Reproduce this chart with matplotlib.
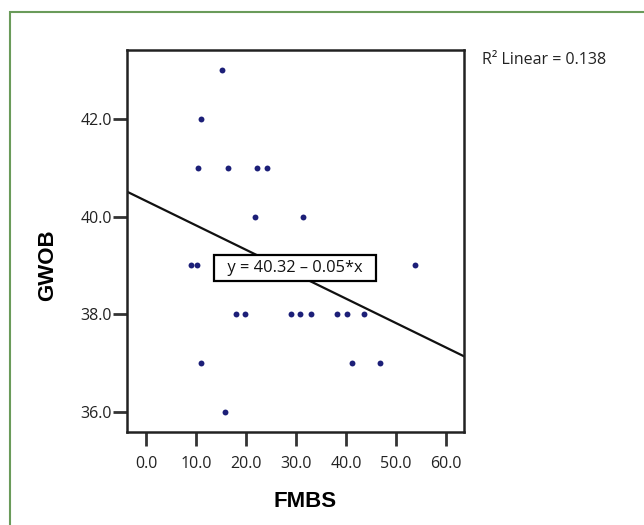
import matplotlib
matplotlib.use("Agg")
import numpy as np
import matplotlib.pyplot as plt
from matplotlib.patches import Rectangle

# FMBS vs GWOB values
fmbs = [15.3, 11.0, 10.5, 16.5, 22.3, 24.3, 21.8, 31.4, 9.1, 10.3, 53.8,
        18.1, 19.8, 29.1, 30.8, 33.1, 38.1, 40.1, 43.5, 11.0, 41.1, 46.8, 15.8]
gwob = [43, 42, 41, 41, 41, 41, 40, 40, 39, 39, 39,
        38, 38, 38, 38, 38, 38, 38, 38, 37, 37, 37, 36]
intercept = 40.32
slope = -0.05
r2 = 0.138
xticks = [0, 10, 20, 30, 40, 50, 60]
yticks = [36, 38, 40, 42]

plt.rcParams["font.family"] = ["Open Sans", "DejaVu Sans"]
fig = plt.figure(figsize=(6.44, 5.25), dpi=100)
ax = fig.add_axes([0.1972, 0.1771, 0.5233, 0.7277])

ax.scatter(fmbs, gwob, s=18, color="#1c1f78", zorder=3, linewidths=0)
xl = (-3.8, 63.6)
xs = np.array(xl)
ax.plot(xs, intercept + slope * xs, color="#111111", lw=1.6, zorder=2)
ax.set_xlim(*xl)
ax.set_ylim(35.59, 43.41)

ax.set_xticks(xticks)
ax.set_xticklabels([f"{v:.1f}" for v in xticks])
ax.set_yticks(yticks)
ax.set_yticklabels([f"{v:.1f}" for v in yticks])
ax.tick_params(axis="both", direction="out", length=10, width=2,
               color="#333333", labelsize=11.5, labelcolor="#222222")
ax.tick_params(axis="x", pad=7)
ax.tick_params(axis="y", pad=1)
for sp in ax.spines.values():
    sp.set_linewidth(1.8)
    sp.set_color("#222222")

xlab = ax.set_xlabel("FMBS", family="Liberation Sans", fontweight="bold",
                     fontsize=16, va="center")
ylab = ax.set_ylabel("GWOB", family="Liberation Sans", fontweight="bold",
                     fontsize=16, va="center")
# labels sit a little off-centre in the original
ax.xaxis.set_label_coords(0.527, -0.183)
ax.yaxis.set_label_coords(-0.237, 0.437)

ax.text(29.8, 38.95, f"  y = {intercept:.2f} \u2013 {abs(slope):.2f}*x  ",
        ha="center", va="center", fontsize=11.8, color="#111111", zorder=4,
        bbox=dict(boxstyle="square,pad=0.3", fc="white", ec="black", lw=1.6))

fig.text(482 / 644, 1 - 60 / 525, f"R\u00b2 Linear = {r2:.3f}",
         fontsize=11.5, ha="left", va="center", color="#222222")

# green frame round the panel
fig.patches.append(Rectangle((10 / 644, -0.05), 1.1, 1 - 12 / 525 + 0.05,
                             transform=fig.transFigure, fill=False,
                             ec="#6a9b5a", lw=1.5))

fig.savefig("out.png", dpi=100)
